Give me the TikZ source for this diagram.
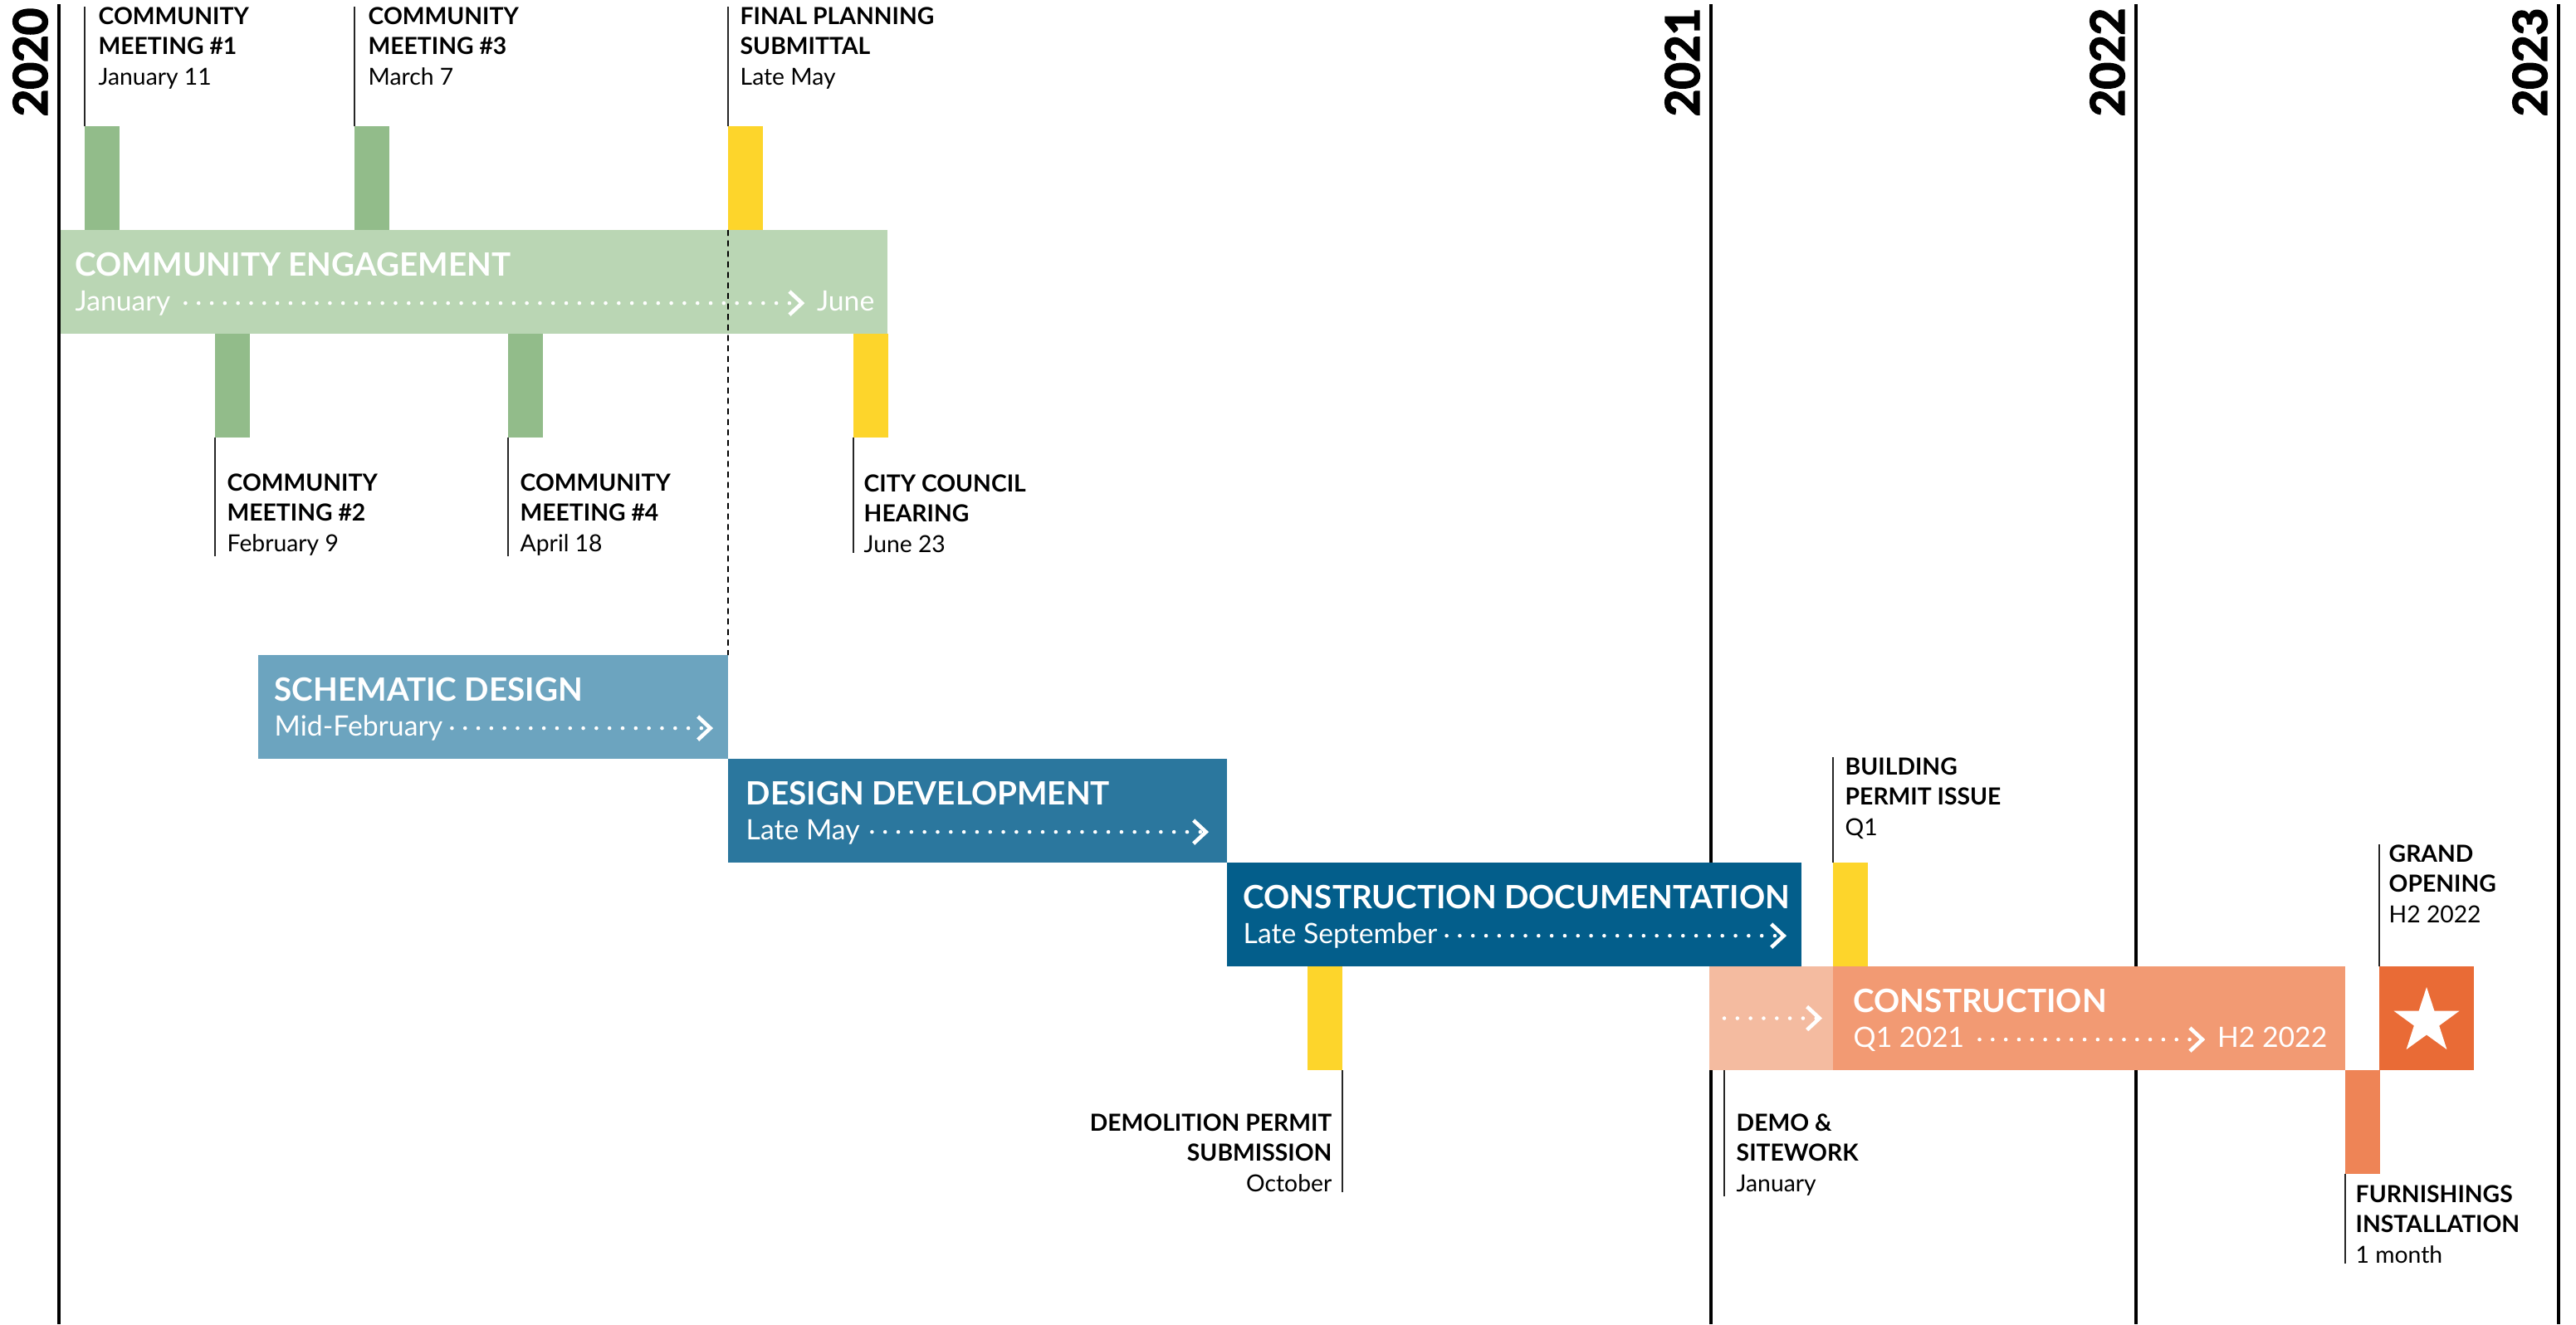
\documentclass[tikz,border=0pt]{standalone}
\usepackage{fontspec}
\setmainfont{Lato}
\newfontfamily\yearfont[FakeBold=3]{Lato}
\usetikzlibrary{arrows.meta,calc,shapes.geometric}

\definecolor{engageGreen}{HTML}{BAD6B4}
\definecolor{meetGreen}{HTML}{92BC8A}
\definecolor{permitYellow}{HTML}{FDD52B}
\definecolor{sdBlue}{HTML}{6CA4BF}
\definecolor{ddBlue}{HTML}{2B779E}
\definecolor{cdBlue}{HTML}{035E8B}
\definecolor{demoSalmon}{HTML}{F4BBA0}
\definecolor{conSalmon}{HTML}{F29A73}
\definecolor{furnOrange}{HTML}{EE8456}
\definecolor{openOrange}{HTML}{E96B36}

\begin{document}
\begin{tikzpicture}[x=1cm, y=-1cm,
  band/.style={rectangle, inner sep=0, outer sep=0, anchor=north west, minimum height=1.25cm},
  marker/.style={rectangle, inner sep=0, outer sep=0, anchor=north west,
                 minimum width=0.42cm, minimum height=1.25cm},
  bandtitle/.style={anchor=base west, inner sep=0, text=white,
                    font=\fontsize{11}{13}\selectfont\bfseries},
  bandsub/.style={anchor=base west, inner sep=0, text=white,
                  font=\fontsize{9.6}{11}\selectfont},
  dotline/.style={white, line width=1.3pt, line cap=round, dash pattern=on 0pt off 4.5pt,
                  -{Straight Barb[length=1.5mm,width=2.8mm]}},
  tag/.style={inner sep=0, align=left, anchor=north west,
              font=\fontsize{8.05}{10.4}\selectfont},
  leader/.style={line width=0.45pt, black!85}]
  % 画布 3103 x 1595 px -> 31.03 x 15.95 cm，y 轴向下
  \useasboundingbox (0,0) rectangle (31.03,15.95);

  % ── E1 年份竖线 ──
  \foreach \x/\yr in {0.71/2020, 20.61/2021, 25.73/2022, 30.82/2023}{
    \draw[line width=1.35pt] (\x,0.05) -- (\x,15.95);
    \node[rotate=90, anchor=south east, inner sep=0,
          font=\yearfont\bfseries\fontsize{16}{16}\selectfont] (yr\yr) at (\x-0.13,0.09) {\yr}; }

  % ── E2 阶段色带 ──
  \node[band, fill=engageGreen, minimum width=9.96cm] (ce) at (0.73,2.77) {};
  \node[band, fill=sdBlue, minimum width=5.66cm] (sd) at (3.11,7.89) {};
  \node[band, fill=ddBlue, minimum width=6.01cm] (dd) at (8.77,9.14) {};
  \node[band, fill=cdBlue, minimum width=6.92cm] (cd) at (14.78,10.39) {};
  \node[band, fill=demoSalmon, minimum width=1.49cm] (demo) at (20.59,11.64) {};
  \node[band, fill=conSalmon, minimum width=6.17cm] (con) at (22.08,11.64) {};
  \node[band, fill=openOrange, minimum width=1.14cm] (go) at (28.66,11.64) {};
  \node[star, star points=5, star point ratio=2.6, fill=white, inner sep=0,
        minimum size=0.83cm] (go-star) at ($(go.center)+(0,0.04)$) {};

  % ── E3 里程碑小块 ──
  \node[marker, fill=meetGreen] (m1) at (1.02,1.52) {};
  \node[marker, fill=meetGreen] (m3) at (4.27,1.52) {};
  \node[marker, fill=permitYellow] (fps) at (8.77,1.52) {};
  \node[marker, fill=meetGreen] (m2) at (2.59,4.02) {};
  \node[marker, fill=meetGreen] (m4) at (6.12,4.02) {};
  \node[marker, fill=permitYellow] (cch) at (10.28,4.02) {};
  \node[marker, fill=permitYellow] (bpi) at (22.08,10.39) {};
  \node[marker, fill=permitYellow] (dps) at (15.75,11.64) {};
  \node[marker, fill=furnOrange] (fur) at (28.25,12.89) {};

  % SD 起点对齐 final planning submittal
  \draw[line width=0.45pt, dash pattern=on 2pt off 1.6pt] (fps.south west) -- (sd.north east);

  % ── E4 色带文字 + 点线箭头 ──
  \node[bandtitle] (ce-t) at ($(ce.north west)+(0.17,0.55)$) {COMMUNITY ENGAGEMENT};
  \node[bandsub] (ce-s) at ($(ce.north west)+(0.17,0.97)$) {January};
  \node[bandsub, anchor=base east] (ce-e) at ($(ce.north east)+(-0.15,0.97)$) {June};
  \draw[dotline] ([xshift=5pt]ce-s.mid east) -- ([xshift=-4pt]ce-e.mid west);

  \node[bandtitle] (sd-t) at ($(sd.north west)+(0.19,0.55)$) {SCHEMATIC DESIGN};
  \node[bandsub] (sd-s) at ($(sd.north west)+(0.19,0.97)$) {Mid-February};
  \draw[dotline] ([xshift=3pt]sd-s.mid east) -- ($(sd.east |- sd-s.mid)+(-0.18,0)$);

  \node[bandtitle] (dd-t) at ($(dd.north west)+(0.21,0.55)$) {DESIGN DEVELOPMENT};
  \node[bandsub] (dd-s) at ($(dd.north west)+(0.21,0.97)$) {Late May};
  \draw[dotline] ([xshift=4pt]dd-s.mid east) -- ($(dd.east |- dd-s.mid)+(-0.22,0)$);

  \node[bandtitle] (cd-t) at ($(cd.north west)+(0.19,0.55)$) {CONSTRUCTION DOCUMENTATION};
  \node[bandsub] (cd-s) at ($(cd.north west)+(0.19,0.97)$) {Late September};
  \draw[dotline] ([xshift=3pt]cd-s.mid east) -- ($(cd.east |- cd-s.mid)+(-0.18,0)$);

  \draw[dotline] ($(demo.west)+(0.18,0)$) -- ($(demo.east)+(-0.13,0)$);
  \node[bandtitle] (con-t) at ($(con.north west)+(0.24,0.55)$) {CONSTRUCTION};
  \node[bandsub] (con-s) at ($(con.north west)+(0.24,0.97)$) {Q1 2021};
  \node[bandsub, anchor=base east] (con-e) at ($(con.north east)+(-0.21,0.97)$) {H2 2022};
  \draw[dotline] ([xshift=5pt]con-s.mid east) -- ([xshift=-4pt]con-e.mid west);

  % ── E5 里程碑标注（上方）──
  \node[tag] (l1) at (1.18,0.08) {\textbf{COMMUNITY}\\\textbf{MEETING \#1}\\January 11};
  \node[tag] (l3) at (4.43,0.08) {\textbf{COMMUNITY}\\\textbf{MEETING \#3}\\March 7};
  \node[tag] (lfps) at (8.91,0.08) {\textbf{FINAL PLANNING}\\\textbf{SUBMITTAL}\\Late May};
  \node[tag] (lbpi) at (22.22,9.12) {\textbf{BUILDING}\\\textbf{PERMIT ISSUE}\\Q1};
  \node[tag] (lgo) at (28.77,10.17) {\textbf{GRAND}\\\textbf{OPENING}\\H2 2022};
  \draw[leader] (m1.north west) -- (m1.north west |- l1.north);
  \draw[leader] (m3.north west) -- (m3.north west |- l3.north);
  \draw[leader] (fps.north west) -- (fps.north west |- lfps.north);
  \draw[leader] (bpi.north west) -- (bpi.north west |- lbpi.north);
  \draw[leader] (go.north west) -- (go.north west |- lgo.north);

  % ── E6 里程碑标注（下方）──
  \node[tag] (l2) at (2.73,5.70) {\textbf{COMMUNITY}\\\textbf{MEETING \#2}\\February 9};
  \node[tag] (l4) at (6.26,5.70) {\textbf{COMMUNITY}\\\textbf{MEETING \#4}\\April 18};
  \node[tag] (lcch) at (10.40,5.71) {\textbf{CITY COUNCIL}\\\textbf{HEARING}\\June 23};
  \node[tag, align=right, anchor=north east] (ldps) at (16.05,13.41)
    {\textbf{DEMOLITION PERMIT}\\\textbf{SUBMISSION}\\October};
  \node[tag] (ldemo) at (20.91,13.41) {\textbf{DEMO \&}\\\textbf{SITEWORK}\\January};
  \node[tag] (lfur) at (28.37,14.27) {\textbf{FURNISHINGS}\\\textbf{INSTALLATION}\\1 month};
  \coordinate (demo-tick) at ($(demo.south west)+(0.18,0)$);
  \draw[leader] (m2.south west) -- (m2.south west |- l2.south);
  \draw[leader] (m4.south west) -- (m4.south west |- l4.south);
  \draw[leader] (cch.south west) -- (cch.south west |- lcch.south);
  \draw[leader] (dps.south east) -- (dps.south east |- ldps.south);
  \draw[leader] (demo-tick) -- (demo-tick |- ldemo.south);
  \draw[leader] (fur.south west) -- (fur.south west |- lfur.south);
\end{tikzpicture}
\end{document}
